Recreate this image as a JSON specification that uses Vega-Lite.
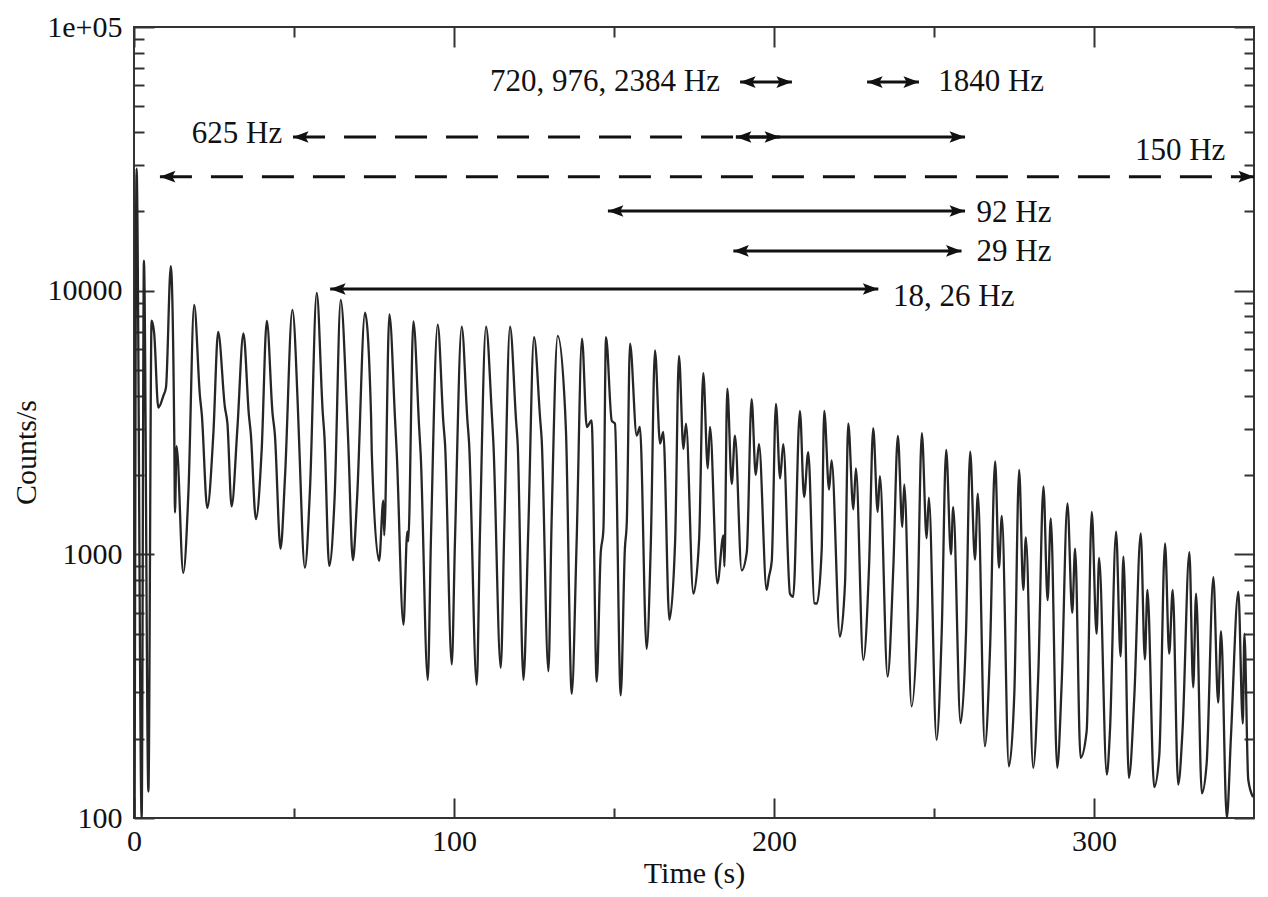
{
  "$schema": "https://vega.github.io/schema/vega-lite/v6.json",
  "width": 1120,
  "height": 791,
  "autosize": {"type": "none"},
  "padding": {"left": 134, "top": 27, "right": 14, "bottom": 79},
  "background": "white",
  "config": {
    "view": {"stroke": "#333", "strokeWidth": 2},
    "axis": {
      "grid": false,
      "domain": false,
      "tickColor": "#333",
      "tickWidth": 2,
      "labelFont": "Liberation Serif",
      "labelFontSize": 30,
      "labelColor": "#111",
      "labelFlush": false,
      "labelOverlap": false,
      "titleFont": "Liberation Serif",
      "titleFontSize": 30,
      "titleFontWeight": "normal",
      "titleColor": "#111"
    }
  },
  "datasets": {
    "curve": [
      {"t":0.2,"c":100},{"t":0.8,"c":29000},{"t":2.4,"c":100},{"t":3.1,"c":13000},{"t":4.5,"c":126},{"t":5.5,"c":7700},{"t":6.3,"c":6900},{"t":7.6,"c":3600},{"t":9.2,"c":4000},{"t":10.0,"c":4300},
      {"t":11.5,"c":12400},{"t":12.6,"c":2680},{"t":12.8,"c":1440},{"t":13.3,"c":2570},{"t":15.4,"c":850},{"t":17.0,"c":1710},
      {"t":18.8,"c":8830},{"t":20.6,"c":3990},{"t":21.2,"c":3380},{"t":22.9,"c":1500},{"t":24.8,"c":2870},
      {"t":26.3,"c":6970},{"t":28.4,"c":3620},{"t":29.2,"c":3130},{"t":30.5,"c":1520},{"t":32.3,"c":2990},
      {"t":34.2,"c":6880},{"t":35.9,"c":3380},{"t":36.5,"c":2870},{"t":38.1,"c":1360},{"t":39.9,"c":2490},
      {"t":41.5,"c":7680},{"t":43.3,"c":3420},{"t":44.0,"c":2870},{"t":45.8,"c":1050},{"t":47.2,"c":1980},
      {"t":49.5,"c":8450},{"t":51.2,"c":3620},{"t":51.6,"c":2680},{"t":53.4,"c":890},{"t":55.0,"c":1770},
      {"t":57.1,"c":9800},{"t":59.0,"c":3420},{"t":59.5,"c":2820},{"t":61.0,"c":905},{"t":62.7,"c":1650},
      {"t":64.6,"c":9220},{"t":66.5,"c":3620},{"t":67.0,"c":2570},{"t":68.4,"c":950},{"t":69.7,"c":1620},
      {"t":72.2,"c":8250},{"t":74.1,"c":3290},{"t":74.3,"c":2440},{"t":76.6,"c":944},{"t":77.9,"c":1600},{"t":78.2,"c":1180},
      {"t":79.8,"c":8130},{"t":81.6,"c":3210},{"t":82.1,"c":2440},{"t":84.2,"c":541},{"t":85.4,"c":1220},{"t":85.7,"c":1120},
      {"t":87.3,"c":7650},{"t":89.1,"c":3040},{"t":89.6,"c":2380},{"t":91.8,"c":334},{"t":92.8,"c":1150},
      {"t":94.9,"c":7430},{"t":96.7,"c":3130},{"t":97.2,"c":2620},{"t":99.3,"c":382},{"t":100.3,"c":1120},
      {"t":102.4,"c":7310},{"t":104.2,"c":3210},{"t":104.7,"c":2660},{"t":107.1,"c":320},{"t":108.1,"c":1180},
      {"t":110.0,"c":7310},{"t":111.8,"c":3440},{"t":112.3,"c":2660},{"t":114.6,"c":371},{"t":115.7,"c":1220},
      {"t":117.5,"c":7310},{"t":119.4,"c":3210},{"t":119.9,"c":2620},{"t":121.7,"c":334},{"t":123.2,"c":1220},
      {"t":125.0,"c":6670},{"t":126.9,"c":3290},{"t":127.4,"c":2730},{"t":129.5,"c":360},{"t":130.5,"c":1330},
      {"t":132.4,"c":6740},{"t":134.7,"c":3550},{"t":135.0,"c":2910},{"t":136.8,"c":296},{"t":138.3,"c":1090},
      {"t":140.0,"c":6580},{"t":141.5,"c":3040},{"t":143.0,"c":3220},{"t":144.6,"c":329},{"t":145.8,"c":986},{"t":146.7,"c":1250},
      {"t":147.5,"c":6670},{"t":149.3,"c":3210},{"t":150.3,"c":3130},{"t":152.1,"c":292},{"t":153.4,"c":1050},{"t":154.0,"c":1330},
      {"t":155.0,"c":6290},{"t":157.1,"c":2820},{"t":158.1,"c":3040},{"t":160.2,"c":438},{"t":161.5,"c":1090},
      {"t":162.8,"c":5930},{"t":164.4,"c":2630},{"t":165.4,"c":2910},{"t":167.3,"c":565},{"t":169.1,"c":1120},
      {"t":170.3,"c":5660},{"t":171.7,"c":2510},{"t":172.5,"c":3130},{"t":174.8,"c":709},{"t":176.6,"c":1140},
      {"t":177.9,"c":4870},{"t":179.3,"c":2120},{"t":180.0,"c":3040},{"t":182.3,"c":776},{"t":184.2,"c":1180},{"t":184.5,"c":900},
      {"t":185.4,"c":4250},{"t":186.8,"c":1850},{"t":187.8,"c":2820},{"t":189.9,"c":870},{"t":191.5,"c":1020},
      {"t":193.0,"c":3880},{"t":194.3,"c":2000},{"t":195.3,"c":2620},{"t":197.7,"c":733},{"t":198.4,"c":820},{"t":199.3,"c":944},
      {"t":200.6,"c":3720},{"t":201.9,"c":1940},{"t":202.9,"c":2620},{"t":205.0,"c":709},{"t":206.0,"c":690},
      {"t":208.1,"c":3500},{"t":209.4,"c":1650},{"t":210.7,"c":2440},{"t":212.6,"c":653},{"t":213.4,"c":650},{"t":214.9,"c":1040},
      {"t":215.7,"c":3500},{"t":217.2,"c":1760},{"t":218.0,"c":2270},{"t":220.6,"c":487},{"t":222.2,"c":780},
      {"t":223.2,"c":3140},{"t":224.8,"c":1480},{"t":225.6,"c":2120},{"t":227.9,"c":398},{"t":229.7,"c":898},
      {"t":231.0,"c":3010},{"t":232.4,"c":1450},{"t":233.1,"c":1980},{"t":235.5,"c":344},{"t":237.3,"c":898},
      {"t":238.7,"c":2810},{"t":240.1,"c":1270},{"t":240.7,"c":1840},{"t":243.0,"c":265},{"t":244.8,"c":581},
      {"t":246.2,"c":2880},{"t":247.7,"c":1150},{"t":248.4,"c":1640},{"t":250.8,"c":198},{"t":252.4,"c":502},
      {"t":253.8,"c":2490},{"t":255.3,"c":1000},{"t":256.0,"c":1510},{"t":258.3,"c":229},{"t":260.0,"c":502},
      {"t":261.3,"c":2450},{"t":262.8,"c":955},{"t":263.7,"c":1700},{"t":265.9,"c":187},{"t":267.5,"c":434},
      {"t":269.1,"c":2250},{"t":270.3,"c":890},{"t":271.2,"c":1400},{"t":273.4,"c":157},{"t":275.1,"c":297},
      {"t":276.6,"c":2090},{"t":277.9,"c":733},{"t":278.7,"c":1160},{"t":281.0,"c":155},{"t":282.6,"c":354},
      {"t":284.2,"c":1810},{"t":285.5,"c":670},{"t":286.5,"c":1370},{"t":288.5,"c":155},{"t":289.9,"c":324},
      {"t":291.7,"c":1560},{"t":293.2,"c":600},{"t":294.1,"c":1050},{"t":295.8,"c":169},{"t":297.7,"c":213},
      {"t":299.3,"c":1450},{"t":300.8,"c":500},{"t":301.6,"c":970},{"t":304.0,"c":146},{"t":305.0,"c":216},
      {"t":306.9,"c":1220},{"t":308.3,"c":410},{"t":309.2,"c":980},{"t":310.9,"c":142},{"t":312.6,"c":289},
      {"t":314.6,"c":1200},{"t":315.9,"c":400},{"t":316.7,"c":733},{"t":318.8,"c":131},{"t":320.4,"c":173},
      {"t":322.2,"c":1100},{"t":323.5,"c":420},{"t":324.6,"c":733},{"t":326.3,"c":134},{"t":327.7,"c":219},
      {"t":329.8,"c":1020},{"t":331.0,"c":313},{"t":331.9,"c":710},{"t":333.7,"c":124},{"t":335.2,"c":161},
      {"t":337.3,"c":819},{"t":338.8,"c":274},{"t":339.7,"c":511},{"t":341.5,"c":100},{"t":342.8,"c":204},
      {"t":345.1,"c":722},{"t":346.5,"c":228},{"t":347.0,"c":500},{"t":348.2,"c":140},{"t":349.7,"c":120}
    ],
    "dashedArrows": [
      {"from":8.1,"to":350,"y":27060},
      {"from":49.7,"to":188.1,"y":38270}
    ],
    "solidArrows": [
      {"from":188.1,"to":201.9,"y":38270},
      {"from":188.1,"to":259.7,"y":38270},
      {"from":189.4,"to":205.6,"y":61800},
      {"from":229.1,"to":245.3,"y":61800},
      {"from":148.1,"to":259.7,"y":20050},
      {"from":187.3,"to":258.6,"y":14150},
      {"from":61.3,"to":232.6,"y":10150}
    ],
    "heads": [
      {"t":8.1,"y":27060,"dir":"left"},{"t":350,"y":27060,"dir":"right"},
      {"t":49.7,"y":38270,"dir":"left"},{"t":188.1,"y":38270,"dir":"left"},{"t":201.9,"y":38270,"dir":"right"},{"t":259.7,"y":38270,"dir":"right"},
      {"t":189.4,"y":61800,"dir":"left"},{"t":205.6,"y":61800,"dir":"right"},
      {"t":229.1,"y":61800,"dir":"left"},{"t":245.3,"y":61800,"dir":"right"},
      {"t":148.1,"y":20050,"dir":"left"},{"t":259.7,"y":20050,"dir":"right"},
      {"t":187.3,"y":14150,"dir":"left"},{"t":258.6,"y":14150,"dir":"right"},
      {"t":61.3,"y":10150,"dir":"left"},{"t":232.6,"y":10150,"dir":"right"}
    ],
    "labelsBefore": [
      {"t":183.1,"y":61800,"label":"720, 976, 2384 Hz"},
      {"t":46.3,"y":39290,"label":"625 Hz"}
    ],
    "labelsAfter": [
      {"t":251.3,"y":61800,"label":"1840 Hz"},
      {"t":312.8,"y":33860,"label":"150 Hz"},
      {"t":263.3,"y":19630,"label":"92 Hz"},
      {"t":263.3,"y":13960,"label":"29 Hz"},
      {"t":237.2,"y":9460,"label":"18, 26 Hz"}
    ]
  },
  "resolve": {"axis": {"x": "independent", "y": "independent"}},
  "layer": [
    {
      "data": {"name": "curve"},
      "mark": {"type": "line", "color": "#262626", "strokeWidth": 2.3, "interpolate": "monotone", "strokeJoin": "round", "clip": true},
      "encoding": {
        "x": {
          "field": "t", "type": "quantitative",
          "scale": {"domain": [0, 350], "nice": false, "zero": false},
          "axis": {
            "orient": "bottom", "values": [0, 100, 200, 300], "tickSize": -20,
            "labelPadding": 28, "title": "Time (s)", "titleY": 64,
            "titleBaseline": "alphabetic"
          }
        },
        "y": {
          "field": "c", "type": "quantitative",
          "scale": {"type": "log", "domain": [100, 100000], "nice": false},
          "axis": {
            "orient": "left", "values": [100, 1000, 10000, 100000], "tickSize": -20,
            "labelPadding": 32,
            "labelExpr": "datum.value >= 100000 ? '1e+05' : format(datum.value, 'd')",
            "title": "Counts/s", "titleAngle": -90, "titleBaseline": "alphabetic",
            "titleX": -99, "titleY": 425
          }
        }
      }
    },
    {
      "data": {"name": "dashedArrows"},
      "mark": {"type": "rule", "color": "#111", "strokeWidth": 3, "strokeDash": [32, 19], "strokeCap": "butt"},
      "encoding": {
        "x": {
          "field": "from", "type": "quantitative",
          "scale": {"domain": [0, 350], "nice": false, "zero": false},
          "axis": {"orient": "bottom", "values": [50, 150, 250], "tickSize": -10, "labels": false, "title": null}
        },
        "x2": {"field": "to"},
        "y": {
          "field": "y", "type": "quantitative",
          "scale": {"type": "log", "domain": [100, 100000], "nice": false},
          "axis": {
            "orient": "left",
            "values": [200, 300, 400, 500, 600, 700, 800, 900, 2000, 3000, 4000, 5000, 6000, 7000, 8000, 9000, 20000, 30000, 40000, 50000, 60000, 70000, 80000, 90000],
            "tickSize": -10, "labels": false, "title": null
          }
        }
      }
    },
    {
      "data": {"name": "solidArrows"},
      "mark": {"type": "rule", "color": "#111", "strokeWidth": 3},
      "encoding": {
        "x": {
          "field": "from", "type": "quantitative",
          "scale": {"domain": [0, 350], "nice": false, "zero": false},
          "axis": {"orient": "top", "values": [0, 100, 200, 300], "tickSize": -20, "labels": false, "title": null}
        },
        "x2": {"field": "to"},
        "y": {
          "field": "y", "type": "quantitative",
          "scale": {"type": "log", "domain": [100, 100000], "nice": false},
          "axis": {"orient": "right", "values": [100, 1000, 10000, 100000], "tickSize": -20, "labels": false, "title": null}
        }
      }
    },
    {
      "data": {"name": "heads"},
      "mark": {"type": "point", "filled": true, "color": "#111", "opacity": 1, "size": 240},
      "encoding": {
        "x": {
          "field": "t", "type": "quantitative",
          "scale": {"domain": [0, 350], "nice": false, "zero": false},
          "axis": {"orient": "top", "values": [50, 150, 250], "tickSize": -10, "labels": false, "title": null}
        },
        "y": {
          "field": "y", "type": "quantitative",
          "scale": {"type": "log", "domain": [100, 100000], "nice": false},
          "axis": {
            "orient": "right",
            "values": [200, 300, 400, 500, 600, 700, 800, 900, 2000, 3000, 4000, 5000, 6000, 7000, 8000, 9000, 20000, 30000, 40000, 50000, 60000, 70000, 80000, 90000],
            "tickSize": -10, "labels": false, "title": null
          }
        },
        "shape": {
          "field": "dir", "type": "nominal", "legend": null,
          "scale": {
            "domain": ["left", "right"],
            "range": ["M0,0L2,-0.75L1.6,0L2,0.75Z", "M0,0L-2,-0.75L-1.6,0L-2,0.75Z"]
          }
        }
      }
    },
    {
      "data": {"name": "labelsBefore"},
      "mark": {"type": "text", "font": "Liberation Serif", "fontSize": 31, "color": "#111", "align": "right", "baseline": "middle"},
      "encoding": {
        "x": {"field": "t", "type": "quantitative", "scale": {"domain": [0, 350], "nice": false, "zero": false}, "axis": null},
        "y": {"field": "y", "type": "quantitative", "scale": {"type": "log", "domain": [100, 100000], "nice": false}, "axis": null},
        "text": {"field": "label"}
      }
    },
    {
      "data": {"name": "labelsAfter"},
      "mark": {"type": "text", "font": "Liberation Serif", "fontSize": 31, "color": "#111", "align": "left", "baseline": "middle"},
      "encoding": {
        "x": {"field": "t", "type": "quantitative", "scale": {"domain": [0, 350], "nice": false, "zero": false}, "axis": null},
        "y": {"field": "y", "type": "quantitative", "scale": {"type": "log", "domain": [100, 100000], "nice": false}, "axis": null},
        "text": {"field": "label"}
      }
    }
  ]
}
